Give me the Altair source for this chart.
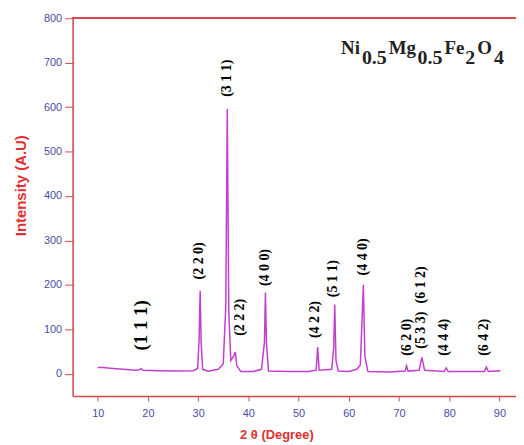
import altair as alt
import pandas as pd

# XRD pattern
two_theta = [10.0, 11.0, 13.0, 15.0, 17.5, 18.3, 18.65, 19.0, 22.0, 26.0, 29.0,
             29.9, 30.2, 30.4, 30.6, 30.9, 32.0, 34.0, 35.0, 35.5, 35.8, 36.1,
             36.5, 37.1, 37.4, 37.7, 38.5, 41.0, 42.6, 43.2, 43.4, 43.6, 44.0,
             48.0, 52.0, 53.5, 53.8, 54.1, 56.6, 57.0, 57.2, 57.45, 57.9, 60.0,
             61.6, 62.3, 62.9, 63.2, 63.8, 68.0, 71.2, 71.5, 71.8, 74.0, 74.55,
             75.1, 79.0, 79.4, 79.8, 87.0, 87.4, 87.8, 90.2]
intensity = [14, 14, 12, 10, 8, 9, 12, 8, 7, 6, 7,
             12, 80, 187, 70, 10, 6, 10, 22, 150, 596, 140,
             30, 40, 49, 18, 5, 5, 10, 70, 183, 70, 6,
             5, 5, 8, 60, 8, 10, 60, 156, 30, 6, 5,
             10, 20, 200, 40, 5, 4, 6, 18, 6, 8, 37,
             8, 5, 13, 5, 5, 15, 5, 7]

# Miller index labels
hkl = ["(2 2 0)", "(3 1 1)", "(2 2 2)", "(4 0 0)", "(4 2 2)", "(5 1 1)",
       "(4 4 0)", "(6 2 0)", "(5 3 3)", "(6 1 2)", "(4 4 4)", "(6 4 2)"]
hkl_x = [30.14, 35.69, 38.26, 43.41, 53.3, 56.87, 62.81, 71.52, 74.3, 74.3, 79.05, 86.96]
hkl_y = [254, 665, 127, 239, 122, 214, 263, 82, 98, 200, 82, 82]

big_hkl = ["(1 1 1)"]
big_hkl_x = [18.66]
big_hkl_y = [109]

# Formula Ni0.5Mg0.5Fe2O4 pieces
formula_main = ["Ni", "Mg", "Fe", "O"]
formula_main_x = [58.45, 67.96, 79.05, 85.58]
formula_main_y = [719, 719, 719, 719]
formula_sub = ["0.5", "0.5", "2", "4"]
formula_sub_x = [62.61, 73.70, 83.2, 88.94]
formula_sub_y = [697, 697, 697, 697]

x_ticks = [10, 15, 20, 25, 30, 35, 40, 45, 50, 55, 60, 65, 70, 75, 80, 85, 90]
y_ticks = [0, 50, 100, 150, 200, 250, 300, 350, 400, 450, 500, 550, 600, 650, 700, 750, 800]

RED = "#d24a4a"
TICKLAB = "#4a4aa8"
LINE = "#c23fd0"

df = pd.DataFrame({"t": two_theta, "i": intensity})
lab = pd.DataFrame({"t": hkl_x, "i": hkl_y, "s": hkl})
big = pd.DataFrame({"t": big_hkl_x, "i": big_hkl_y, "s": big_hkl})
fm = pd.DataFrame({"t": formula_main_x, "i": formula_main_y, "s": formula_main})
fs = pd.DataFrame({"t": formula_sub_x, "i": formula_sub_y, "s": formula_sub})

xscale = alt.Scale(domain=[5, 93.3], nice=False, zero=False)
yscale = alt.Scale(domain=[-50, 800], nice=False, zero=False)

xaxis = alt.Axis(
    values=x_ticks,
    labelExpr="datum.value % 10 === 0 ? datum.label : ''",
    title="2 θ (Degree)",
    titleColor="#e03030", titleFont="Liberation Sans", titleFontSize=13,
    titleFontWeight="bold", titleX=205, titleY=39, titleBaseline="middle",
    labelColor=TICKLAB, labelFont="Liberation Sans", labelFontSize=11,
    labelPadding=7, labelOverlap=False, labelFlush=False,
    domainColor=RED, domainWidth=1.5, tickColor=RED, tickWidth=1,
    tickSize={"condition": {"test": "datum.value % 10 !== 0", "value": 3}, "value": 5},
    grid=False,
)
yaxis = alt.Axis(
    values=y_ticks,
    labelExpr="datum.value % 100 === 0 ? datum.label : ''",
    title="Intensity (A.U)",
    titleColor="#e03030", titleFont="Liberation Sans", titleFontSize=15,
    titleFontWeight="bold", titleX=-52, titleY=168, titleAngle=270,
    titleAlign="center", titleBaseline="middle",
    labelColor=TICKLAB, labelFont="Liberation Sans", labelFontSize=11,
    labelPadding=3, labelOverlap=False, labelFlush=False,
    domainColor=RED, domainWidth=1.5, tickColor=RED, tickWidth=1,
    tickSize={"condition": {"test": "datum.value % 100 !== 0", "value": 4}, "value": 8},
    grid=False,
)

line = alt.Chart(df).mark_line(color=LINE, strokeWidth=1.5).encode(
    x=alt.X("t:Q", scale=xscale, axis=xaxis),
    y=alt.Y("i:Q", scale=yscale, axis=yaxis),
)

top = alt.Chart(df).mark_rule(color=RED, strokeWidth=1.5).encode(
    y=alt.datum(800, scale=yscale)
)

labels = alt.Chart(lab).mark_text(
    angle=270, font="Liberation Serif", fontWeight="bold", fontSize=14,
    color="black", align="center", baseline="middle"
).encode(x=alt.X("t:Q", scale=xscale), y=alt.Y("i:Q", scale=yscale), text="s:N")

big_labels = alt.Chart(big).mark_text(
    angle=270, font="Liberation Serif", fontWeight="bold", fontSize=19,
    color="black", align="center", baseline="middle"
).encode(x=alt.X("t:Q", scale=xscale), y=alt.Y("i:Q", scale=yscale), text="s:N")

main_txt = alt.Chart(fm).mark_text(
    font="Liberation Serif", fontWeight="bold", fontSize=19, color="#222222",
    align="left", baseline="alphabetic"
).encode(x=alt.X("t:Q", scale=xscale), y=alt.Y("i:Q", scale=yscale), text="s:N")

sub_txt = alt.Chart(fs).mark_text(
    font="Liberation Serif", fontWeight="bold", fontSize=20, color="#222222",
    align="left", baseline="alphabetic"
).encode(x=alt.X("t:Q", scale=xscale), y=alt.Y("i:Q", scale=yscale), text="s:N")

chart = alt.layer(line, top, labels, big_labels, main_txt, sub_txt).properties(
    width=446, height=380,
    autosize=alt.AutoSizeParams(type="none"),
    padding={"left": 65, "top": 9, "right": 0, "bottom": 48},
).configure_view(stroke=None).configure(background="white")

chart.save("out.html", embed_options={"renderer": "svg", "actions": False})
